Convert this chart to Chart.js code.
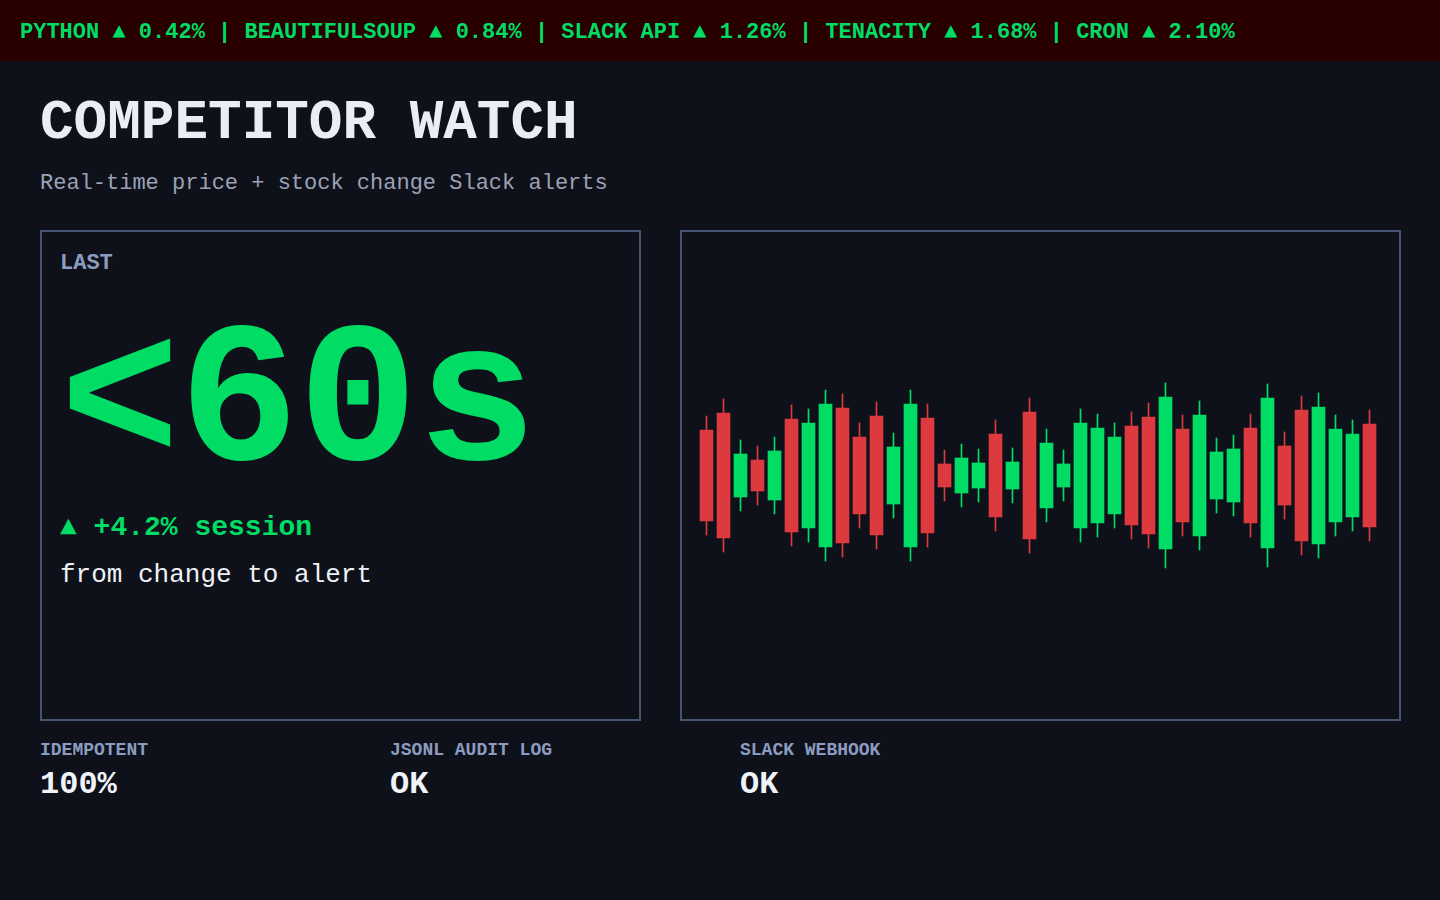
<!DOCTYPE html>
<html>
<head>
<meta charset="utf-8">
<script src="https://cdn.jsdelivr.net/npm/chart.js@4.4.1/dist/chart.umd.min.js"></script>
<style>
  html, body { margin:0; padding:0; }
  body { width:1440px; height:900px; background:#0e111a; font-family:"Liberation Mono", "DejaVu Sans Mono", monospace; position:relative; overflow:hidden; }
  .ticker { position:absolute; left:0; top:0; width:1440px; height:61px; background:#290000; color:#00dc64; font-weight:bold; font-size:22px; line-height:61px; padding-left:20px; box-sizing:border-box; white-space:pre; }
  .ticker span { position:relative; top:1.5px; }
  .abs { position:absolute; white-space:pre; line-height:1; }
  .title { left:40px; top:95px; font-size:56px; font-weight:bold; color:#e9eef4; }
  .sub { left:40px; top:173px; font-size:22px; color:#9ca1b5; }
  .card { position:absolute; border:2px solid #44536f; box-sizing:border-box; }
  .lab { font-weight:bold; color:#8c9cc0; }
  .big { left:60px; top:306px; font-size:200px; font-weight:bold; color:#00dc64; letter-spacing:-1px; }
  .sess { left:60px; top:514px; font-size:28px; font-weight:bold; color:#00dc64; }
  .from { left:60px; top:562px; font-size:26px; color:#eef2f6; }
  .val { font-size:32px; font-weight:bold; color:#f0f4f8; }
  #chartBox { position:absolute; left:698px; top:248px; width:680px; height:455px; }
</style>
</head>
<body>
<div class="ticker"><span>PYTHON ▲ 0.42% | BEAUTIFULSOUP ▲ 0.84% | SLACK API ▲ 1.26% | TENACITY ▲ 1.68% | CRON ▲ 2.10%</span></div>
<div class="abs title">COMPETITOR WATCH</div>
<div class="abs sub">Real-time price + stock change Slack alerts</div>

<div class="card" style="left:40px; top:230px; width:601px; height:491px;"></div>
<div class="abs lab" style="left:60px; top:253px; font-size:22px;">LAST</div>
<div class="abs big">&lt;60s</div>
<div class="abs sess">▲ +4.2% session</div>
<div class="abs from">from change to alert</div>

<div class="card" style="left:680px; top:230px; width:721px; height:491px;"></div>
<div id="chartBox"><canvas id="c"></canvas></div>

<div class="abs lab" style="left:40px; top:741px; font-size:18px;">IDEMPOTENT</div>
<div class="abs val" style="left:40px; top:769px;">100%</div>
<div class="abs lab" style="left:390px; top:741px; font-size:18px;">JSONL AUDIT LOG</div>
<div class="abs val" style="left:390px; top:769px;">OK</div>
<div class="abs lab" style="left:740px; top:741px; font-size:18px;">SLACK WEBHOOK</div>
<div class="abs val" style="left:740px; top:769px;">OK</div>

<script>
const categories = ["1","2","3","4","5","6","7","8","9","10","11","12","13","14","15","16","17","18","19","20",
  "21","22","23","24","25","26","27","28","29","30","31","32","33","34","35","36","37","38","39","40"];
const opens  = [104.55,106.25,97.85,101.55,97.55,105.65,94.75,92.85,106.75,103.85,105.95,97.15,92.85,105.75,101.15,98.25,98.75,104.15,98.65,106.35,
  96.75,98.85,94.75,95.25,96.15,104.95,105.85,92.65,104.65,93.95,97.65,97.35,104.75,92.75,102.95,106.55,93.15,95.35,95.85,105.15];
const closes = [95.45,93.75,102.15,98.45,102.45,94.35,105.25,107.15,93.25,96.15,94.05,102.85,107.15,94.25,98.85,101.75,101.25,95.85,101.35,93.65,
  103.25,101.15,105.25,104.75,103.85,95.05,94.15,107.85,95.35,106.05,102.35,102.65,95.25,107.75,97.05,93.45,106.85,104.65,104.15,94.85];
const highs  = [105.95,107.65,103.55,102.95,103.85,107.05,106.65,108.55,108.15,105.25,107.35,104.25,108.55,107.15,102.55,103.15,102.65,105.55,102.75,107.75,
  104.65,102.55,106.65,106.15,105.25,106.35,107.25,109.25,106.05,107.45,103.75,104.05,106.15,109.15,104.35,107.95,108.25,106.05,105.55,106.55];
const lows   = [94.05,92.35,96.45,97.05,96.15,92.95,93.35,91.45,91.85,94.75,92.65,95.75,91.45,92.85,97.45,96.85,97.35,94.45,97.25,92.25,
  95.35,97.45,93.35,93.85,94.75,93.65,92.75,90.75,93.95,92.55,96.25,95.95,93.85,90.85,95.65,92.05,91.75,93.95,94.45,93.45];

const UP = '#00dc64', DOWN = '#dc3a3e';
const colors = opens.map((o, i) => closes[i] >= o ? UP : DOWN);

new Chart(document.getElementById('c'), {
  type: 'bar',
  data: {
    labels: categories,
    datasets: [
      { label: 'wick', data: lows.map((l, i) => [l, highs[i]]), backgroundColor: colors, borderWidth: 0, barThickness: 1, grouped: false, order: 2 },
      { label: 'body', data: opens.map((o, i) => [o, closes[i]]), backgroundColor: colors, borderWidth: 0, barThickness: 13, grouped: false, order: 1 }
    ]
  },
  options: {
    responsive: true,
    maintainAspectRatio: false,
    animation: false,
    layout: { padding: 0 },
    plugins: { legend: { display: false }, tooltip: { enabled: false } },
    scales: {
      x: { display: false, offset: true, grid: { display: false } },
      y: { display: false, min: 77.25, max: 122.75, grid: { display: false } }
    }
  }
});
</script>
</body>
</html>
